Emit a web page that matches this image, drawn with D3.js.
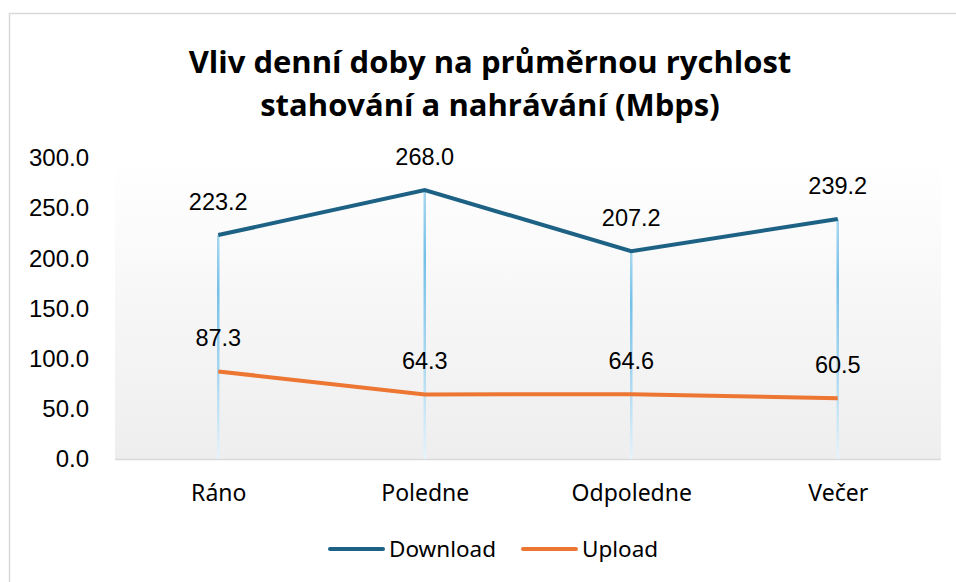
<!DOCTYPE html>
<html>
<head>
<meta charset="utf-8">
<script src="https://cdn.jsdelivr.net/npm/d3@7"></script>
<style>
  body { margin: 0; background: #fff; }
  svg { display: block; }
</style>
</head>
<body>
<div class="graph"></div>
<script>
var categories = ['Ráno', 'Poledne', 'Odpoledne', 'Večer'];
var download = [223.2, 268.0, 207.2, 239.2];
var upload = [87.3, 64.3, 64.6, 60.5];
var yTicks = [0, 50, 100, 150, 200, 250, 300];
var titleLines = ['Vliv denní doby na průměrnou rychlost', 'stahování a nahrávání (Mbps)'];
var seriesNames = ['Download', 'Upload'];
var seriesColors = ['#1d6285', '#ec7632'];

var width = 956, height = 582;
var plot = { left: 115, right: 941, top: 158, bottom: 459 };

var svg = d3.select('.graph').append('svg')
    .attr('width', width)
    .attr('height', height);

var defs = svg.append('defs');

// plot background: white fading to light grey
var bg = defs.append('linearGradient')
    .attr('id', 'bg').attr('x1', 0).attr('y1', 0).attr('x2', 0).attr('y2', 1);
bg.append('stop').attr('offset', 0).attr('stop-color', '#ffffff');
bg.append('stop').attr('offset', 1).attr('stop-color', '#eeeeee');

// drop lines: light blue with a stronger middle
var drop = defs.append('linearGradient')
    .attr('id', 'drop').attr('x1', 0).attr('y1', 0).attr('x2', 0).attr('y2', 1);
drop.append('stop').attr('offset', 0).attr('stop-color', '#a9d8f1');
drop.append('stop').attr('offset', 0.25).attr('stop-color', '#74c0e8');
drop.append('stop').attr('offset', 0.6).attr('stop-color', '#a6d6f0');
drop.append('stop').attr('offset', 1).attr('stop-color', '#e6f3fb');

// chart border
svg.append('rect')
    .attr('x', 9.5).attr('y', 13.5)
    .attr('width', 980).attr('height', 600)
    .attr('fill', 'none')
    .attr('stroke', '#d9d9d9')
    .attr('stroke-width', 1.5);

var x = d3.scalePoint()
    .domain(categories)
    .range([plot.left, plot.right])
    .padding(0.5);

var y = d3.scaleLinear()
    .domain([0, 300])
    .range([plot.bottom, plot.top]);

svg.append('rect')
    .attr('x', plot.left).attr('y', plot.top)
    .attr('width', plot.right - plot.left)
    .attr('height', plot.bottom - plot.top)
    .attr('fill', 'url(#bg)');

// title
svg.append('g').selectAll('text')
    .data(titleLines)
    .enter().append('text')
      .attr('x', 490)
      .attr('y', function (d, i) { return 73 + i * 43; })
      .attr('text-anchor', 'middle')
      .style('font-family', '"Open Sans", sans-serif')
      .style('font-weight', 'bold')
      .style('font-size', '31px')
      .style('fill', '#000')
      .text(function (d) { return d; });

// y axis labels
var yAxis = d3.axisLeft(y)
    .tickValues(yTicks)
    .tickSize(0)
    .tickPadding(0)
    .tickFormat(d3.format('.1f'));

svg.append('g')
    .attr('transform', 'translate(89,0)')
    .call(yAxis)
    .call(function (g) { g.select('.domain').remove(); })
    .selectAll('text')
      .style('font-family', '"Liberation Sans", Arial, sans-serif')
      .style('font-size', '24px')
      .style('fill', '#000');

// x axis labels and baseline
var xAxis = d3.axisBottom(x).tickSize(0).tickPadding(0);
svg.append('g')
    .attr('transform', 'translate(0,' + plot.bottom + ')')
    .call(xAxis)
    .call(function (g) { g.select('.domain').remove(); })
    .selectAll('text')
      .attr('y', 42)
      .attr('dy', 0)
      .style('font-family', '"Noto Sans", sans-serif')
      .style('font-size', '23px')
      .style('fill', '#000');

svg.append('line')
    .attr('x1', plot.left).attr('x2', plot.right)
    .attr('y1', plot.bottom + 0.5).attr('y2', plot.bottom + 0.5)
    .attr('stroke', '#d9d9d9')
    .attr('stroke-width', 1.5);

// drop lines from the highest point down to the axis
var tops = categories.map(function (c, i) { return Math.max(download[i], upload[i]); });
svg.append('g').selectAll('rect')
    .data(tops)
    .enter().append('rect')
      .attr('x', function (d, i) { return x(categories[i]) - 1.25; })
      .attr('y', function (d) { return y(d); })
      .attr('width', 2.5)
      .attr('height', function (d) { return y(0) - y(d); })
      .attr('fill', 'url(#drop)');

var line = d3.line()
    .x(function (d, i) { return x(categories[i]); })
    .y(function (d) { return y(d); });

[download, upload].forEach(function (values, s) {
  svg.append('path')
      .datum(values)
      .attr('d', line)
      .attr('fill', 'none')
      .attr('stroke', seriesColors[s])
      .attr('stroke-width', 4);

  svg.append('g').selectAll('text')
      .data(values)
      .enter().append('text')
        .attr('x', function (d, i) { return x(categories[i]); })
        .attr('y', function (d) { return y(d) - 25; })
        .attr('text-anchor', 'middle')
        .style('font-family', '"Liberation Sans", Arial, sans-serif')
        .style('font-size', '23.5px')
        .style('fill', '#000')
        .text(function (d) { return d3.format('.1f')(d); });
});

// legend
var legend = svg.append('g').attr('transform', 'translate(330,549)');
var item = legend.selectAll('g')
    .data(seriesNames)
    .enter().append('g')
      .attr('transform', function (d, i) { return 'translate(' + i * 193 + ',0)'; });
item.append('line')
    .attr('x1', 0).attr('x2', 53)
    .attr('stroke', function (d, i) { return seriesColors[i]; })
    .attr('stroke-width', 4)
    .attr('stroke-linecap', 'round');
item.append('text')
    .attr('x', 59)
    .attr('y', 8)
    .style('font-family', '"Noto Sans", sans-serif')
    .style('font-size', '22.5px')
    .style('fill', '#000')
    .text(function (d) { return d; });
</script>
</body>
</html>
